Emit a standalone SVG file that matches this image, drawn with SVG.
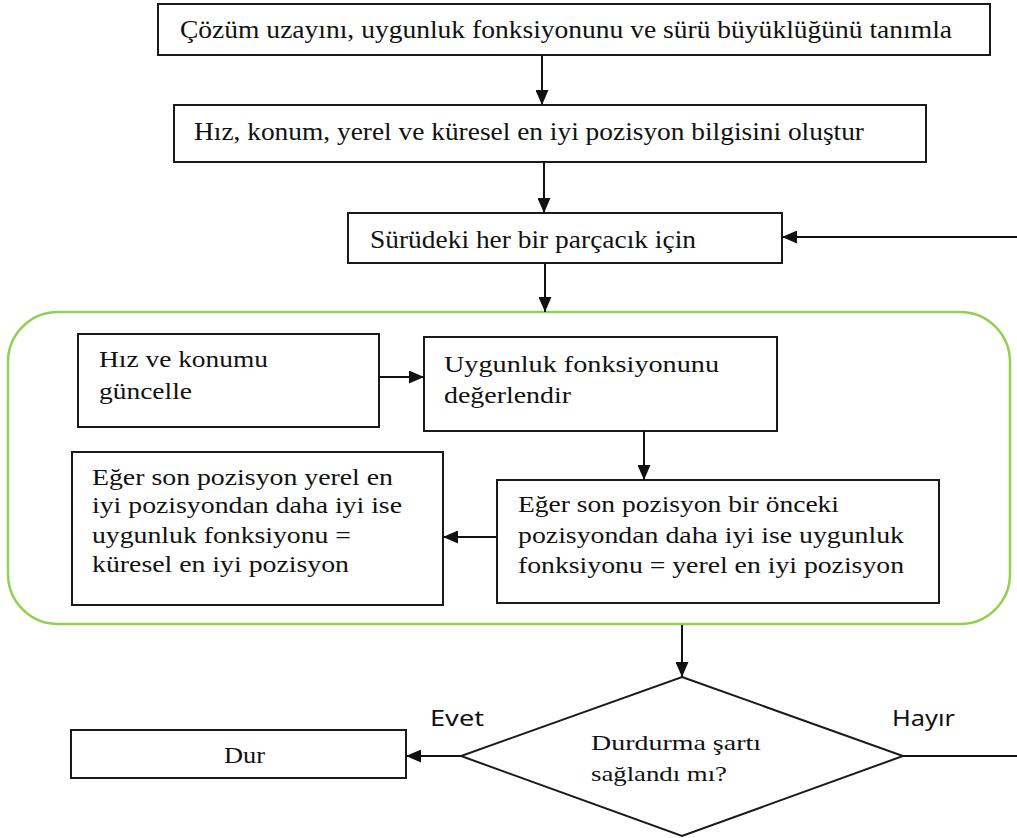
<svg xmlns="http://www.w3.org/2000/svg" width="1017" height="838" viewBox="0 0 1017 838">
<style>
.box{fill:#fff;stroke:#1a1a1a;stroke-width:2}
.t{font-family:"Liberation Serif","Times New Roman",serif;fill:#111}
.s{font-family:"Noto Sans","Open Sans",sans-serif;fill:#111}
.c{stroke:#111;stroke-width:2;fill:none}
</style>
<defs>
<marker id="ah" markerUnits="userSpaceOnUse" markerWidth="15" markerHeight="13" refX="15" refY="6.5" orient="auto">
<path d="M0,0 L15,6.5 L0,13 z" fill="#111"/>
</marker>
</defs>
<rect width="1017" height="838" fill="#fff"/>
<g id="group-loop">
<rect x="8" y="312" width="1002" height="312" rx="50" ry="50" fill="none" stroke="#92D050" stroke-width="2.5"/>
</g>
<g id="n1">
<rect class="box" x="158" y="4" width="832" height="51"/>
<text class="t" x="180" y="38" font-size="26" textLength="772" lengthAdjust="spacingAndGlyphs">Çözüm uzayını, uygunluk fonksiyonunu ve sürü büyüklüğünü tanımla</text>
</g>
<g id="n2">
<rect class="box" x="174" y="105" width="752" height="57"/>
<text class="t" x="194" y="140" font-size="26" textLength="670" lengthAdjust="spacingAndGlyphs">Hız, konum, yerel ve küresel en iyi pozisyon bilgisini oluştur</text>
</g>
<g id="n3">
<rect class="box" x="348" y="213" width="434" height="50"/>
<text class="t" x="370" y="248" font-size="26" textLength="326" lengthAdjust="spacingAndGlyphs">Sürüdeki her bir parçacık için</text>
</g>
<g id="nA">
<rect class="box" x="78" y="334" width="301" height="93"/>
<text class="t" x="99" y="367" font-size="24" textLength="169" lengthAdjust="spacingAndGlyphs">Hız ve konumu</text>
<text class="t" x="99" y="399" font-size="24" textLength="93" lengthAdjust="spacingAndGlyphs">güncelle</text>
</g>
<g id="nB">
<rect class="box" x="424" y="337" width="353" height="94"/>
<text class="t" x="444" y="372" font-size="24" textLength="275" lengthAdjust="spacingAndGlyphs">Uygunluk fonksiyonunu</text>
<text class="t" x="444" y="403" font-size="24" textLength="127" lengthAdjust="spacingAndGlyphs">değerlendir</text>
</g>
<g id="nC">
<rect class="box" x="72" y="452" width="371" height="153"/>
<text class="t" x="92" y="485" font-size="24" textLength="301" lengthAdjust="spacingAndGlyphs">Eğer son pozisyon yerel en</text>
<text class="t" x="92" y="513" font-size="24" textLength="310" lengthAdjust="spacingAndGlyphs">iyi pozisyondan daha iyi ise</text>
<text class="t" x="92" y="543" font-size="24" textLength="259" lengthAdjust="spacingAndGlyphs">uygunluk fonksiyonu =</text>
<text class="t" x="92" y="572" font-size="24" textLength="257" lengthAdjust="spacingAndGlyphs">küresel en iyi pozisyon</text>
</g>
<g id="nD">
<rect class="box" x="497" y="480" width="442" height="123"/>
<text class="t" x="518" y="512" font-size="24" textLength="321" lengthAdjust="spacingAndGlyphs">Eğer son pozisyon bir önceki</text>
<text class="t" x="518" y="543" font-size="24" textLength="386" lengthAdjust="spacingAndGlyphs">pozisyondan daha iyi ise uygunluk</text>
<text class="t" x="518" y="573" font-size="24" textLength="386" lengthAdjust="spacingAndGlyphs">fonksiyonu = yerel en iyi pozisyon</text>
</g>
<g id="nDecision">
<polygon points="682,677 903,756 682,836 461,756" fill="#fff" stroke="#1a1a1a" stroke-width="2"/>
<text class="t" x="591" y="750" font-size="22" textLength="170" lengthAdjust="spacingAndGlyphs">Durdurma şartı</text>
<text class="t" x="591" y="781" font-size="22" textLength="136" lengthAdjust="spacingAndGlyphs">sağlandı mı?</text>
</g>
<g id="nDur">
<rect class="box" x="71" y="730" width="335" height="48"/>
<text class="t" x="224" y="763" font-size="23" textLength="41" lengthAdjust="spacingAndGlyphs">Dur</text>
</g>
<g id="connectors">
<line class="c" x1="542" y1="55" x2="542" y2="105" marker-end="url(#ah)"/>
<line class="c" x1="544" y1="162" x2="544" y2="213" marker-end="url(#ah)"/>
<line class="c" x1="545" y1="263" x2="545" y2="312" marker-end="url(#ah)"/>
<line class="c" x1="1017" y1="237" x2="782" y2="237" marker-end="url(#ah)"/>
<line class="c" x1="379" y1="377" x2="424" y2="377" marker-end="url(#ah)"/>
<line class="c" x1="644" y1="431" x2="644" y2="480" marker-end="url(#ah)"/>
<line class="c" x1="497" y1="537" x2="443" y2="537" marker-end="url(#ah)"/>
<line class="c" x1="682" y1="625" x2="682" y2="677" marker-end="url(#ah)"/>
<line class="c" x1="461" y1="756" x2="406" y2="756" marker-end="url(#ah)"/>
<line class="c" x1="903" y1="756" x2="1017" y2="756"/>
<text class="s" x="430" y="726" font-size="22" textLength="54" lengthAdjust="spacingAndGlyphs">Evet</text>
<text class="s" x="892" y="726" font-size="22" textLength="63" lengthAdjust="spacingAndGlyphs">Hayır</text>
</g>
</svg>
